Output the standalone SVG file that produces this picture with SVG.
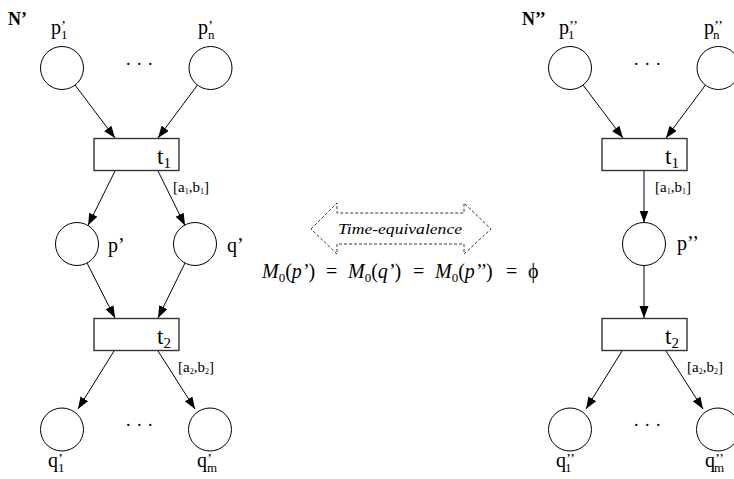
<svg xmlns="http://www.w3.org/2000/svg" width="734" height="479" viewBox="0 0 734 479">
<style>
text{font-family:"Liberation Serif","Times New Roman",serif;fill:#000}
.lbl{font-size:20px}
.tl{font-size:23px}
.sub{font-size:13px}
.tsub{font-size:15px}
.pr{font-size:15px}
.dots{font-size:18px;letter-spacing:1px}
.tw{font-size:15px}
.tws{font-size:8px}
.place{fill:#fff;stroke:#000;stroke-width:1}
.trans{fill:#fff;stroke:#333;stroke-width:1.4}
.arc{stroke:#000;stroke-width:1;fill:none}
.eq{font-size:20px}
.eqs{font-size:13px}
.it{font-style:italic}
.ttl{font-size:18px;font-weight:bold}
</style>
<defs>
<marker id="ah" markerWidth="13" markerHeight="10" refX="12" refY="4.5" orient="auto" markerUnits="userSpaceOnUse">
<path d="M0,0 L12,4.5 L0,9 z" fill="#000"/>
</marker>
</defs>

<text class="ttl" x="8" y="25">N’</text>
<text class="ttl" x="522" y="25">N’’</text>

<g id="connectors">
<line class="arc" x1="75" y1="85" x2="115" y2="138" marker-end="url(#ah)"/>
<line class="arc" x1="197.5" y1="85" x2="158" y2="138" marker-end="url(#ah)"/>
<line class="arc" x1="115" y1="171" x2="88" y2="225.5" marker-end="url(#ah)"/>
<line class="arc" x1="158" y1="171" x2="185" y2="225.5" marker-end="url(#ah)"/>
<line class="arc" x1="87" y1="263" x2="115" y2="318" marker-end="url(#ah)"/>
<line class="arc" x1="185" y1="263" x2="158" y2="318" marker-end="url(#ah)"/>
<line class="arc" x1="114" y1="351" x2="78" y2="409" marker-end="url(#ah)"/>
<line class="arc" x1="158" y1="351" x2="195" y2="409" marker-end="url(#ah)"/>

<line class="arc" x1="583" y1="85" x2="623" y2="138" marker-end="url(#ah)"/>
<line class="arc" x1="705.5" y1="85" x2="666" y2="138" marker-end="url(#ah)"/>
<line class="arc" x1="644" y1="171" x2="644" y2="222.5" marker-end="url(#ah)"/>
<line class="arc" x1="644" y1="265.5" x2="644" y2="318" marker-end="url(#ah)"/>
<line class="arc" x1="622" y1="351" x2="586" y2="409" marker-end="url(#ah)"/>
<line class="arc" x1="666" y1="351" x2="703" y2="409" marker-end="url(#ah)"/>
</g>

<!-- Left net N' -->
<g id="p1p">
<circle class="place" cx="62" cy="68" r="21.5"/>
<text class="lbl" x="51" y="34">p<tspan class="pr" dy="-3">’</tspan><tspan class="sub" dx="-5" dy="8">1</tspan></text>
</g>
<g id="pnp">
<circle class="place" cx="210.5" cy="68" r="21.5"/>
<text class="lbl" x="198" y="34">p<tspan class="pr" dy="-3">’</tspan><tspan class="sub" dx="-5" dy="8">n</tspan></text>
</g>
<text class="dots" x="126" y="65">. . .</text>
<g id="t1p">
<rect class="trans" x="94" y="138.5" width="85" height="32"/>
<text class="tl" x="157" y="164">t<tspan class="tsub" dy="4">1</tspan></text>
<text class="tw" x="173" y="192">[a<tspan class="tws" dy="2">1</tspan><tspan dy="-2">,b</tspan><tspan class="tws" dy="2">1</tspan><tspan dy="-2">]</tspan></text>
</g>
<g id="pp">
<circle class="place" cx="77" cy="244" r="21.5"/>
<text class="lbl" x="108" y="252">p’</text>
</g>
<g id="qp">
<circle class="place" cx="195" cy="244" r="21.5"/>
<text class="lbl" x="227" y="252">q’</text>
</g>
<g id="t2p">
<rect class="trans" x="94" y="318.5" width="85" height="32"/>
<text class="tl" x="157" y="344">t<tspan class="tsub" dy="4">2</tspan></text>
<text class="tw" x="178" y="372">[a<tspan class="tws" dy="2">2</tspan><tspan dy="-2">,b</tspan><tspan class="tws" dy="2">2</tspan><tspan dy="-2">]</tspan></text>
</g>
<g id="q1p">
<circle class="place" cx="62" cy="429.5" r="21.5"/>
<text class="lbl" x="48" y="467">q<tspan class="pr" dy="-3">’</tspan><tspan class="sub" dx="-5" dy="8">1</tspan></text>
</g>
<g id="qmp">
<circle class="place" cx="210" cy="429.5" r="21.5"/>
<text class="lbl" x="197" y="467">q<tspan class="pr" dy="-3">’</tspan><tspan class="sub" dx="-5" dy="8">m</tspan></text>
</g>
<text class="dots" x="126" y="426">. . .</text>

<!-- Right net N'' -->
<g id="p1pp">
<circle class="place" cx="570" cy="68" r="21.5"/>
<text class="lbl" x="559" y="34">p<tspan class="pr" dy="-3">’’</tspan><tspan class="sub" dx="-10" dy="8">1</tspan></text>
</g>
<g id="pnpp">
<circle class="place" cx="718.5" cy="68" r="21.5"/>
<text class="lbl" x="704" y="34">p<tspan class="pr" dy="-3">’’</tspan><tspan class="sub" dx="-10" dy="8">n</tspan></text>
</g>
<text class="dots" x="634" y="65">. . .</text>
<g id="t1pp">
<rect class="trans" x="602" y="138.5" width="85" height="32"/>
<text class="tl" x="665" y="164">t<tspan class="tsub" dy="4">1</tspan></text>
<text class="tw" x="655" y="192">[a<tspan class="tws" dy="2">1</tspan><tspan dy="-2">,b</tspan><tspan class="tws" dy="2">1</tspan><tspan dy="-2">]</tspan></text>
</g>
<g id="ppp">
<circle class="place" cx="644" cy="244" r="21.5"/>
<text class="lbl" x="677" y="250">p’’</text>
</g>
<g id="t2pp">
<rect class="trans" x="602" y="318.5" width="85" height="32"/>
<text class="tl" x="665" y="344">t<tspan class="tsub" dy="4">2</tspan></text>
<text class="tw" x="687" y="372">[a<tspan class="tws" dy="2">2</tspan><tspan dy="-2">,b</tspan><tspan class="tws" dy="2">2</tspan><tspan dy="-2">]</tspan></text>
</g>
<g id="q1pp">
<circle class="place" cx="570" cy="429.5" r="21.5"/>
<text class="lbl" x="556" y="467">q<tspan class="pr" dy="-3">’’</tspan><tspan class="sub" dx="-10" dy="8">1</tspan></text>
</g>
<g id="qmpp">
<circle class="place" cx="718" cy="429.5" r="21.5"/>
<text class="lbl" x="705" y="467">q<tspan class="pr" dy="-3">’’</tspan><tspan class="sub" dx="-10" dy="8">m</tspan></text>
</g>
<text class="dots" x="634" y="426">. . .</text>

<!-- Time-equivalence -->
<g id="equiv">
<path d="M311,229 L337,203 L337,213 L464,213 L464,203 L491,229 L464,254 L464,244 L337,244 L337,254 Z" fill="none" stroke="#000" stroke-width="0.8" stroke-dasharray="3,2"/>
<text x="338" y="234" font-size="15" font-style="italic" textLength="124" lengthAdjust="spacingAndGlyphs">Time-equivalence</text>
</g>

<g id="marking">
<text class="eq" x="262" y="278"><tspan class="it">M</tspan><tspan class="eqs" dy="4">0</tspan><tspan dy="-4">(</tspan><tspan class="it">p’</tspan>)</text>
<text class="eq" x="326" y="278">=</text>
<text class="eq" x="348" y="278"><tspan class="it">M</tspan><tspan class="eqs" dy="4">0</tspan><tspan dy="-4">(</tspan><tspan class="it">q’</tspan>)</text>
<text class="eq" x="413" y="278">=</text>
<text class="eq" x="435" y="278"><tspan class="it">M</tspan><tspan class="eqs" dy="4">0</tspan><tspan dy="-4">(</tspan><tspan class="it">p’’</tspan>)</text>
<text class="eq" x="506" y="278">=</text>
<text class="eq" x="528" y="278">ϕ</text>
</g>
</svg>
